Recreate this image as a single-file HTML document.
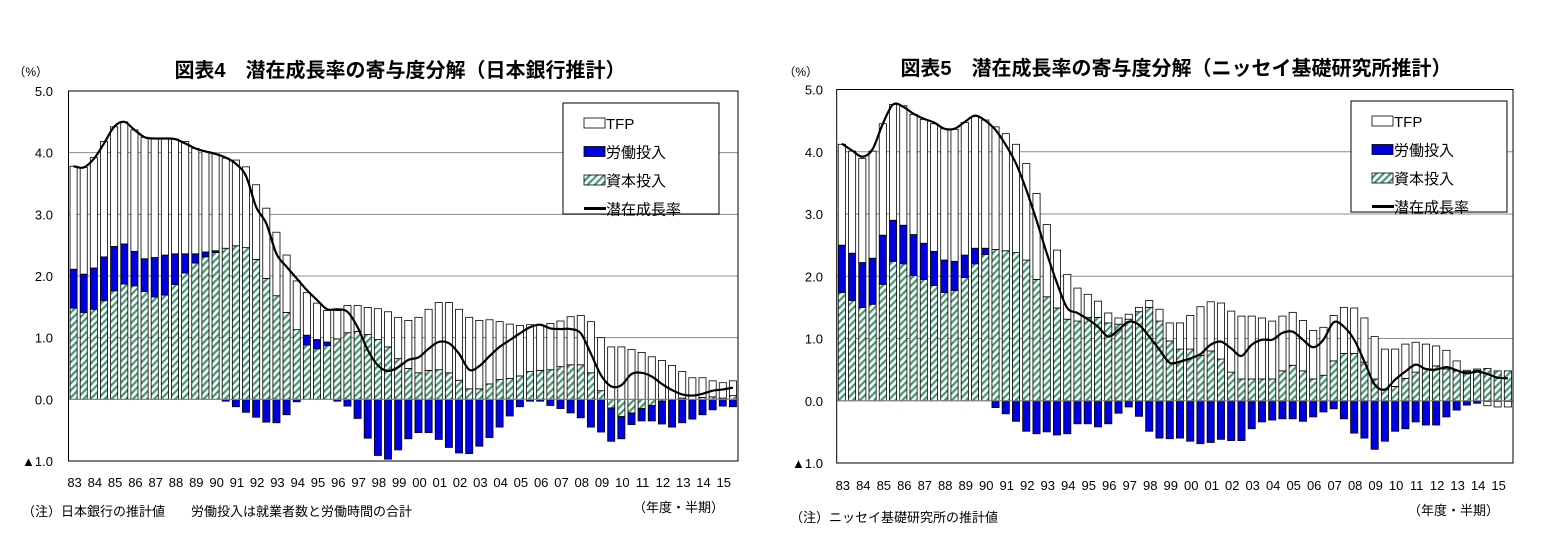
<!DOCTYPE html>
<html><head><meta charset="utf-8">
<style>
html,body{margin:0;padding:0;background:#fff;}
svg{display:block;font-family:"Liberation Sans","Noto Sans CJK JP",sans-serif;}
</style></head>
<body>
<svg id="chart" width="1553" height="557" viewBox="0 0 1553 557" xmlns="http://www.w3.org/2000/svg">
<defs>
<pattern id="hatch" patternUnits="userSpaceOnUse" width="5" height="5" patternTransform="rotate(45)">
<rect width="5" height="5" fill="#fff"/>
<rect width="2.2" height="5" fill="#3f9a6c"/>
</pattern>
</defs>
<g id="left"></g>
<g id="right"></g>
</svg>
<script>
var yearLabels = ["83","84","85","86","87","88","89","90","91","92","93","94","95","96","97","98","99","00","01","02","03","04","05","06","07","08","09","10","11","12","13","14","15"];
var yTickValues = [5,4,3,2,1,0,-1];
var yTickLabels = ["5.0","4.0","3.0","2.0","1.0","0.0","▲1.0"];
var legendLabels = ["TFP","労働投入","資本投入","潜在成長率"];

var capL = [1.48,1.41,1.46,1.60,1.76,1.87,1.84,1.75,1.66,1.69,1.86,2.05,2.21,2.31,2.38,2.45,2.49,2.46,2.27,1.96,1.68,1.41,1.13,0.88,0.82,0.87,0.98,1.08,1.10,1.05,0.97,0.85,0.66,0.50,0.43,0.47,0.48,0.43,0.31,0.17,0.17,0.25,0.32,0.34,0.38,0.45,0.47,0.48,0.53,0.56,0.56,0.43,0.14,-0.14,-0.28,-0.22,-0.15,-0.10,-0.03,0,0.02,0,0.03,0.04,0.02,0.06];
var labL = [0.63,0.62,0.67,0.71,0.72,0.65,0.56,0.53,0.64,0.65,0.50,0.31,0.15,0.08,0.03,-0.03,-0.12,-0.21,-0.29,-0.37,-0.38,-0.25,-0.04,0.16,0.15,0.06,-0.03,-0.11,-0.31,-0.63,-0.91,-0.97,-0.82,-0.64,-0.54,-0.54,-0.65,-0.78,-0.87,-0.88,-0.76,-0.62,-0.45,-0.27,-0.12,-0.03,-0.03,-0.10,-0.15,-0.22,-0.30,-0.45,-0.53,-0.54,-0.36,-0.19,-0.20,-0.25,-0.37,-0.45,-0.38,-0.32,-0.25,-0.17,-0.11,-0.12];
var tfpL = [1.67,1.73,1.79,1.87,1.94,1.98,1.97,1.97,1.93,1.89,1.86,1.82,1.71,1.63,1.57,1.46,1.39,1.31,1.21,1.14,1.03,0.93,0.79,0.69,0.59,0.51,0.46,0.44,0.42,0.44,0.50,0.57,0.67,0.78,0.90,0.99,1.09,1.14,1.15,1.16,1.11,1.04,0.94,0.88,0.82,0.76,0.74,0.75,0.74,0.78,0.80,0.83,0.86,0.85,0.85,0.81,0.76,0.69,0.63,0.55,0.43,0.35,0.32,0.26,0.25,0.24];
var potL = [3.78,3.76,3.90,4.15,4.42,4.50,4.37,4.25,4.23,4.23,4.22,4.15,4.07,4.02,3.98,3.92,3.82,3.62,3.12,2.85,2.36,2.15,1.96,1.77,1.61,1.46,1.46,1.42,1.17,0.80,0.55,0.46,0.52,0.64,0.68,0.82,0.93,0.91,0.74,0.48,0.54,0.70,0.85,0.96,1.07,1.17,1.21,1.15,1.14,1.14,1.07,0.74,0.39,0.21,0.23,0.41,0.43,0.37,0.25,0.15,0.08,0.06,0.09,0.14,0.16,0.19];

var capR = [1.74,1.61,1.50,1.55,1.87,2.24,2.20,2.01,1.95,1.85,1.74,1.77,1.98,2.20,2.35,2.43,2.41,2.38,2.26,1.95,1.67,1.49,1.31,1.28,1.34,1.34,1.25,1.23,1.31,1.43,1.50,1.28,0.96,0.83,0.83,0.73,0.80,0.67,0.46,0.35,0.35,0.35,0.35,0.48,0.57,0.48,0.35,0.41,0.64,0.76,0.76,0.62,0.35,0.18,0.23,0.36,0.46,0.51,0.56,0.51,0.48,0.47,0.49,0.52,0.48,0.48];
var labR = [0.76,0.76,0.72,0.74,0.79,0.66,0.62,0.66,0.58,0.55,0.52,0.47,0.36,0.25,0.10,-0.11,-0.21,-0.33,-0.49,-0.53,-0.50,-0.55,-0.53,-0.37,-0.37,-0.42,-0.37,-0.20,-0.10,-0.25,-0.49,-0.60,-0.61,-0.60,-0.65,-0.69,-0.67,-0.62,-0.64,-0.64,-0.45,-0.34,-0.31,-0.29,-0.29,-0.33,-0.26,-0.18,-0.13,-0.29,-0.52,-0.60,-0.78,-0.65,-0.49,-0.45,-0.34,-0.39,-0.39,-0.26,-0.15,-0.07,-0.04,-0.01,-0.01,-0.01];
var tfpR = [1.62,1.64,1.67,1.72,1.79,1.86,1.92,1.93,1.99,2.05,2.11,2.12,2.13,2.12,2.06,1.97,1.88,1.74,1.55,1.38,1.16,0.93,0.72,0.53,0.37,0.26,0.16,0.10,0.08,0.07,0.11,0.19,0.29,0.42,0.54,0.78,0.79,0.90,0.98,1.01,1.01,0.98,0.93,0.88,0.85,0.81,0.78,0.77,0.73,0.74,0.73,0.71,0.68,0.65,0.60,0.55,0.48,0.40,0.32,0.30,0.16,0.02,0.02,-0.07,-0.09,-0.09];
var potR = [4.13,4.02,3.92,4.04,4.45,4.76,4.72,4.61,4.53,4.47,4.37,4.37,4.48,4.58,4.50,4.35,4.11,3.81,3.39,2.90,2.37,1.89,1.49,1.41,1.31,1.19,1.03,1.14,1.27,1.22,1.03,0.82,0.61,0.63,0.68,0.75,0.90,0.95,0.84,0.72,0.90,0.98,0.98,1.09,1.11,0.98,0.86,0.98,1.26,1.19,0.98,0.63,0.26,0.18,0.34,0.47,0.58,0.51,0.50,0.54,0.49,0.44,0.47,0.43,0.37,0.36];

var NS = "http://www.w3.org/2000/svg";
function mk(parent, tag, attrs){
  var e = document.createElementNS(NS, tag);
  for (var k in attrs) e.setAttribute(k, attrs[k]);
  parent.appendChild(e);
  return e;
}
function txt(parent, x, y, s, size, anchor, weight){
  var t = mk(parent, "text", {x:x, y:y, "font-size":size, "text-anchor":anchor||"start", fill:"#000"});
  if (weight) t.setAttribute("font-weight", weight);
  t.textContent = s;
  return t;
}

function drawChart(g, cfg, cap, lab, tfp, pot){
  var L = cfg.left, R = cfg.right, T = cfg.top, B = cfg.bottom;
  var n = cap.length, slot = (R - L) / n;
  function yS(v){ return T + (5 - v) / 6 * (B - T); }
  function xC(i){ return L + slot * (i + 0.5); }

  // gridlines
  for (var k = 0; k < yTickValues.length; k++){
    var v = yTickValues[k];
    if (v > -1 && v < 5){
      var gl = mk(g, "line", {x1:L, x2:R, y1:yS(v), y2:yS(v), stroke:"#8c8c8c", "stroke-width":1});
      
      
    }
    var tl = txt(g, cfg.ylabX, yS(v) + 5, yTickLabels[k], 13, "end");
    
    
  }
  // bars
  var bw = slot * 0.7;
  for (var i = 0; i < n; i++){
    var pos = 0, neg = 0;
    var parts = [[cap[i], "url(#hatch)", "capital"], [lab[i], "#0000e0", "labor"], [tfp[i], "#ffffff", "tfp"]];
    for (var p = 0; p < 3; p++){
      var val = parts[p][0];
      if (val === 0) continue;
      var y0, y1;
      if (val > 0){ y0 = yS(pos + val); y1 = yS(pos); pos += val; }
      else { y0 = yS(neg); y1 = yS(neg + val); neg += val; }
      var r = mk(g, "rect", {x:xC(i) - bw/2, y:y0, width:bw, height:Math.max(0.5, y1 - y0), fill:parts[p][1], stroke:"#000", "stroke-width":0.8});
      
      
    }
  }
  // zero line
  var zl = mk(g, "line", {x1:L, x2:R, y1:yS(0), y2:yS(0), stroke:"#8c8c8c", "stroke-width":1});
  
  
  // smooth line
  var pts = pot.map(function(v, i){ return [xC(i), yS(v)]; });
  var d = "M" + pts[0][0] + "," + pts[0][1];
  for (var j = 0; j < pts.length - 1; j++){
    var p0 = pts[Math.max(0, j-1)], p1 = pts[j], p2 = pts[j+1], p3 = pts[Math.min(pts.length-1, j+2)];
    var c1x = p1[0] + (p2[0]-p0[0])/6, c1y = p1[1] + (p2[1]-p0[1])/6;
    var c2x = p2[0] - (p3[0]-p1[0])/6, c2y = p2[1] - (p3[1]-p1[1])/6;
    d += " C" + c1x + "," + c1y + " " + c2x + "," + c2y + " " + p2[0] + "," + p2[1];
  }
  var ln = mk(g, "path", {d:d, fill:"none", stroke:"#000", "stroke-width":2.2});
  
  
  // frame
  var fr = mk(g, "rect", {x:L, y:T, width:R-L, height:B-T, fill:"none", stroke:"#000", "stroke-width":1});
  
  
  // x labels
  for (var y = 0; y < yearLabels.length; y++){
    var xl = txt(g, xC(y*2) + 1, cfg.xlabY, yearLabels[y], 13, "middle");
    
    
  }
  // legend
  var lg = mk(g, "g", {});
  
  
  mk(lg, "rect", {x:cfg.legX, y:cfg.legY, width:156, height:111, fill:"#fff", stroke:"#000", "stroke-width":1});
  var sx = cfg.legX + 21;
  for (var m = 0; m < 4; m++){
    var ry = cfg.legY + 11 + m * 28.5;
    var entry = mk(lg, "g", {});
    
    
    if (m === 3){
      mk(entry, "line", {x1:sx, x2:sx+22, y1:ry+9, y2:ry+9, stroke:"#000", "stroke-width":3});
    } else {
      var fills = ["#fff", "#0000e0", "url(#hatch)"];
      mk(entry, "rect", {x:sx, y:ry+4, width:21, height:10, fill:fills[m], stroke:"#000", "stroke-width":0.8});
    }
    txt(entry, sx + 22, ry + 15, legendLabels[m], 15, "start");
  }
}

var gl = document.getElementById("left");
var gr = document.getElementById("right");

var t1 = txt(gl, 400, 77, "図表4　潜在成長率の寄与度分解（日本銀行推計）", 20, "middle", "bold");
 
var u1 = txt(gl, 48, 76, "（%）", 12, "end");
 
drawChart(gl, {left:68.5, right:738, top:91, bottom:461, ylabX:53, xlabY:487, legX:563, legY:103}, capL, labL, tfpL, potL);
var n1 = txt(gl, 22, 516, "（注）日本銀行の推計値　　労働投入は就業者数と労働時間の合計", 13, "start");
 
var a1 = txt(gl, 724, 512, "（年度・半期）", 13, "end");
 

var t2 = txt(gr, 1176, 75, "図表5　潜在成長率の寄与度分解（ニッセイ基礎研究所推計）", 20, "middle", "bold");
 
var u2 = txt(gr, 818, 76, "（%）", 12, "end");
 
drawChart(gr, {left:836.7, right:1513, top:89.5, bottom:463, ylabX:823, xlabY:490, legX:1351, legY:101}, capR, labR, tfpR, potR);
var n2 = txt(gr, 790, 522, "（注）ニッセイ基礎研究所の推計値", 13, "start");
 
var a2 = txt(gr, 1499, 515, "（年度・半期）", 13, "end");
 
</script>
</body></html>
